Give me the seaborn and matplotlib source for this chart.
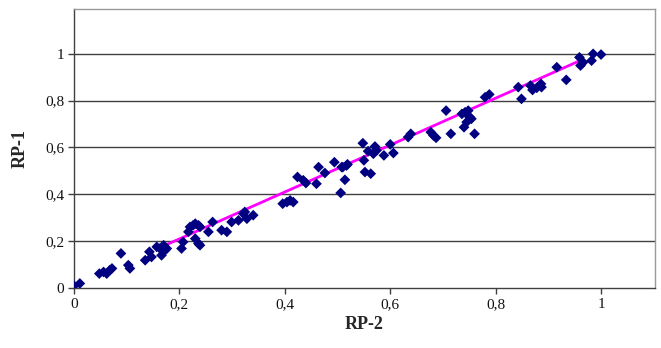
import matplotlib
matplotlib.use("Agg")
import matplotlib.pyplot as plt
import seaborn as sns
import pandas as pd
from matplotlib.ticker import FuncFormatter, FixedLocator

rp2 = [0.000, 0.011, 0.048, 0.056, 0.062, 0.068, 0.072, 0.089, 0.103, 0.106,
       0.135, 0.143, 0.147, 0.157, 0.163, 0.166, 0.173, 0.170, 0.176, 0.204,
       0.207, 0.217, 0.220, 0.226, 0.230, 0.236, 0.239, 0.230, 0.236, 0.239,
       0.255, 0.263, 0.280, 0.290, 0.299, 0.312, 0.321, 0.324, 0.328, 0.340,
       0.396, 0.404, 0.410, 0.416, 0.424, 0.435, 0.440, 0.460, 0.464, 0.476,
       0.494, 0.506, 0.508, 0.514, 0.517, 0.510, 0.519, 0.548, 0.550, 0.552,
       0.563, 0.558, 0.568, 0.571, 0.574, 0.588, 0.600, 0.606, 0.634, 0.639,
       0.677, 0.682, 0.687, 0.706, 0.715, 0.736, 0.742, 0.748, 0.751, 0.745,
       0.740, 0.754, 0.760, 0.780, 0.788, 0.843, 0.849, 0.866, 0.870, 0.878,
       0.886, 0.887, 0.916, 0.934, 0.959, 0.961, 0.966, 0.982, 0.985, 1.000]
rp1 = [0.010, 0.020, 0.062, 0.069, 0.062, 0.077, 0.084, 0.148, 0.098, 0.084,
       0.119, 0.155, 0.133, 0.176, 0.169, 0.140, 0.162, 0.183, 0.169, 0.169,
       0.197, 0.240, 0.261, 0.268, 0.275, 0.268, 0.261, 0.211, 0.190, 0.183,
       0.240, 0.282, 0.247, 0.240, 0.282, 0.289, 0.318, 0.325, 0.296, 0.311,
       0.360, 0.367, 0.374, 0.367, 0.474, 0.460, 0.448, 0.445, 0.516, 0.491,
       0.537, 0.406, 0.516, 0.462, 0.523, 0.516, 0.528, 0.618, 0.545, 0.495,
       0.488, 0.584, 0.573, 0.604, 0.587, 0.566, 0.613, 0.576, 0.644, 0.658,
       0.665, 0.651, 0.641, 0.757, 0.658, 0.743, 0.750, 0.757, 0.729, 0.708,
       0.686, 0.722, 0.658, 0.814, 0.826, 0.857, 0.807, 0.864, 0.845, 0.854,
       0.871, 0.857, 0.942, 0.888, 0.984, 0.949, 0.963, 0.970, 0.999, 0.996]

trend_x = [0.165, 0.955]
trend_y = [0.175, 0.965]

x_ticks = [0, 0.2, 0.4, 0.6, 0.8, 1.0]
y_ticks = [0, 0.2, 0.4, 0.6, 0.8, 1.0]

df = pd.DataFrame({"RP-2": rp2, "RP-1": rp1})
tdf = pd.DataFrame({"x": trend_x, "y": trend_y})

sns.set_style("white")
plt.rcParams["font.family"] = ["Liberation Serif", "DejaVu Serif"]

fig = plt.figure(figsize=(6.61, 3.48), dpi=100)
ax = fig.add_axes([0.112, 0.172, 0.879, 0.802])

for yv in y_ticks[1:]:
    ax.axhline(yv, color="#404040", lw=1.0, zorder=1)

sns.lineplot(data=tdf, x="x", y="y", ax=ax, color="#ff00ff", lw=2.0, zorder=2)
sns.scatterplot(data=df, x="RP-2", y="RP-1", ax=ax, marker="D", s=30,
                color="#000080", edgecolor="none", linewidth=0, zorder=3)

ax.set_xlim(0, 1.1025)
ax.set_ylim(0, 1.19)
ax.xaxis.set_major_locator(FixedLocator(x_ticks))
ax.yaxis.set_major_locator(FixedLocator(y_ticks))
fmt = FuncFormatter(lambda v, p: ("%g" % round(v, 2)).replace(".", ","))
ax.xaxis.set_major_formatter(fmt)
ax.yaxis.set_major_formatter(fmt)
ax.tick_params(axis="both", direction="out", length=4, width=1, color="#404040",
               labelsize=11, pad=3, labelcolor="#111111")
ax.tick_params(axis="x", bottom=True)
ax.tick_params(axis="y", left=True)

for side in ["top", "right"]:
    ax.spines[side].set_color("#9a9a9a")
    ax.spines[side].set_linewidth(1.0)
for side in ["left", "bottom"]:
    ax.spines[side].set_color("#404040")
    ax.spines[side].set_linewidth(1.0)

ax.set_xlabel("RP-2", fontsize=13, fontweight="bold", labelpad=4)
ax.set_ylabel("RP-1", fontsize=13, fontweight="bold", labelpad=12)

fig.savefig("out.png", dpi=100)
